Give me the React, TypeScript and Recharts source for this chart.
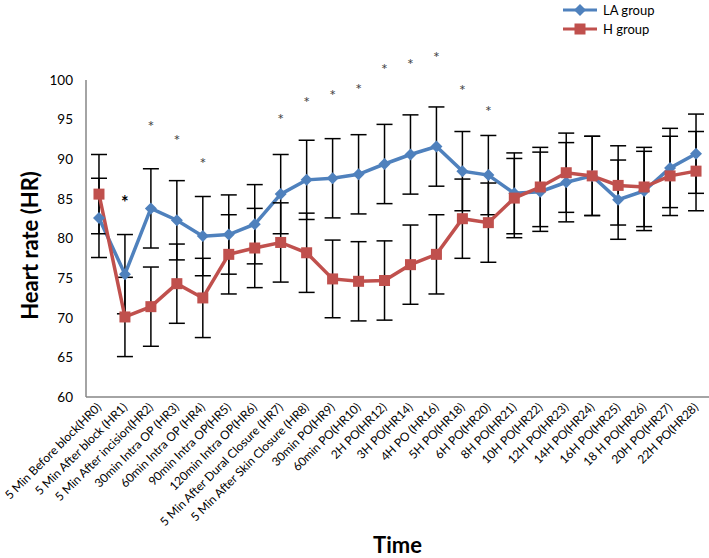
import { LineChart, Line, XAxis, YAxis, ErrorBar, ReferenceDot } from 'recharts'

const categories = [
  '5 Min Before block(HR0)',
  '5 Min After block (HR1)',
  '5 Min After incision(HR2)',
  '30min Intra OP (HR3)',
  '60min Intra OP (HR4)',
  '90min Intra OP(HR5)',
  '120min Intra OP(HR6)',
  '5 Min After Dural Closure (HR7)',
  '5 Min After Skin Closure (HR8)',
  '30min PO(HR9)',
  '60min PO(HR10)',
  '2H PO(HR12)',
  '3H PO(HR14)',
  '4H PO (HR16)',
  '5H PO(HR18)',
  '6H PO(HR20)',
  '8H PO(HR21)',
  '10H PO(HR22)',
  '12H PO(HR23)',
  '14H PO(HR24)',
  '16H PO(HR25)',
  '18 H PO(HR26)',
  '20H PO(HR27)',
  '22H PO(HR28)',
]

const laValues = [82.6, 75.5, 83.8, 82.3, 80.3, 80.5, 81.8, 85.6, 87.4, 87.6, 88.1, 89.4, 90.6, 91.6, 88.5, 88.0, 85.7, 85.9, 87.1, 87.9, 84.9, 86.0, 88.9, 90.7]
const hValues = [85.6, 70.1, 71.4, 74.3, 72.5, 78.0, 78.8, 79.5, 78.2, 74.9, 74.6, 74.7, 76.7, 78.0, 82.5, 82.0, 85.1, 86.5, 88.3, 87.9, 86.7, 86.5, 87.9, 88.5]
const laErr = [5, 5, 5, 5, 5, 5, 5, 5, 5, 5, 5, 5, 5, 5, 5, 5, 5.1, 5, 5, 5, 5, 5, 5, 5]
const hErr = [5, 5, 5, 5, 5, 5, 5, 5, 5, 4.9, 5, 5, 5, 5, 5, 5, 5, 5, 5, 5, 5, 5, 5, 5]

// significance marks: category index, height in HR units, bold or not
const starAt = [1, 2, 3, 4, 7, 8, 9, 10, 11, 12, 13, 14, 15]
const starY = [84.8, 94.4, 92.7, 89.8, 95.3, 97.5, 98.3, 99.1, 101.6, 102.3, 103.1, 99.05, 96.3]
const starBold = [true, false, false, false, false, false, false, false, false, false, false, false, false]

const yTicks = [60, 65, 70, 75, 80, 85, 90, 95, 100]

const seriesNames = ['LA group', 'H group']
const BLUE = '#4F81BD'
const RED = '#C0504D'
const FONT = 'Lato, "Open Sans", sans-serif'

const data = categories.map((label, i) => ({
  label,
  la: laValues[i],
  laErr: laErr[i],
  h: hValues[i],
  hErr: hErr[i],
}))

function Diamond(props: any) {
  const { cx, cy } = props
  if (cx == null || cy == null) return null
  const s = 6
  return <path d={`M${cx},${cy - s}L${cx + s},${cy}L${cx},${cy + s}L${cx - s},${cy}Z`} fill={BLUE} />
}

function Square(props: any) {
  const { cx, cy } = props
  if (cx == null || cy == null) return null
  const s = 5.5
  return <rect x={cx - s} y={cy - s} width={s * 2} height={s * 2} fill={RED} />
}

function XTick({ x, y, payload }: any) {
  const tx = x + 3
  const ty = y + 3
  return (
    <text
      x={tx}
      y={ty}
      transform={`rotate(-45, ${tx}, ${ty})`}
      textAnchor="end"
      fontSize={12}
      fontFamily={FONT}
      fill="#000"
    >
      {payload.value}
    </text>
  )
}

function Legend() {
  return (
    <div style={{ position: 'absolute', left: 560, top: 0, fontFamily: FONT, fontSize: 13 }}>
      {seriesNames.map((name, i) => (
        <div key={name} style={{ display: 'flex', alignItems: 'center', height: 19 }}>
          <svg width={40} height={14}>
            <line x1={3} y1={7} x2={37} y2={7} stroke={i === 0 ? BLUE : RED} strokeWidth={3} />
            {i === 0 ? <Diamond cx={20} cy={7} /> : <Square cx={20} cy={7} />}
          </svg>
          <span style={{ marginLeft: 3 }}>{name}</span>
        </div>
      ))}
    </div>
  )
}

export default function App() {
  return (
    <div style={{ position: 'absolute', left: 0, top: 0, width: 709, height: 558, background: '#fff' }}>
      <LineChart width={709} height={558} data={data} margin={{ top: 80, right: 0, bottom: 0, left: 0 }}>
        <XAxis
          dataKey="label"
          scale="band"
          interval={0}
          height={161}
          tickLine={false}
          axisLine={{ stroke: '#868686', strokeWidth: 1.5 }}
          tick={<XTick />}
          label={(p: any) => {
            const vb = p.viewBox
            return (
              <text x={vb.x + vb.width / 2} y={553} textAnchor="middle" fontSize={22} fontWeight="bold" fontFamily={FONT} fill="#000">
                Time
              </text>
            )
          }}
        />
        <YAxis
          domain={[60, 100]}
          ticks={yTicks}
          width={86}
          tickLine={false}
          tickMargin={7}
          axisLine={{ stroke: '#868686', strokeWidth: 1.5 }}
          tick={{ fontSize: 13.5, fontFamily: FONT, fill: '#000' }}
          label={(p: any) => {
            const vb = p.viewBox
            const cx = 29
            const cy = vb.y + vb.height / 2 + 7
            return (
              <text x={cx} y={cy} transform={`rotate(-90, ${cx}, ${cy})`} textAnchor="middle" dominantBaseline="central" fontSize={22} fontWeight="bold" fontFamily={FONT} fill="#000">
                Heart rate (HR)
              </text>
            )
          }}
        />
        <Line dataKey="la" name={seriesNames[0]} stroke={BLUE} strokeWidth={3.5} dot={<Diamond />} activeDot={false} isAnimationActive={false}>
          <ErrorBar dataKey="laErr" direction="y" width={8} stroke="#000" strokeWidth={1.5} isAnimationActive={false} />
        </Line>
        <Line dataKey="h" name={seriesNames[1]} stroke={RED} strokeWidth={3.5} dot={<Square />} activeDot={false} isAnimationActive={false}>
          <ErrorBar dataKey="hErr" direction="y" width={8} stroke="#000" strokeWidth={1.5} isAnimationActive={false} />
        </Line>
        {starAt.map((ci, k) => (
          <ReferenceDot
            key={k}
            x={categories[ci]}
            y={starY[k]}
            ifOverflow="visible"
            shape={(p: any) => (
              <text
                x={p.cx}
                y={p.cy + (starBold[k] ? 9 : 8)}
                textAnchor="middle"
                fontSize={starBold[k] ? 18 : 16}
                fontWeight={starBold[k] ? 'bold' : 'normal'}
                fontFamily={FONT}
                fill={starBold[k] ? '#000' : '#444'}
              >
                *
              </text>
            )}
          />
        ))}
      </LineChart>
      <Legend />
    </div>
  )
}
